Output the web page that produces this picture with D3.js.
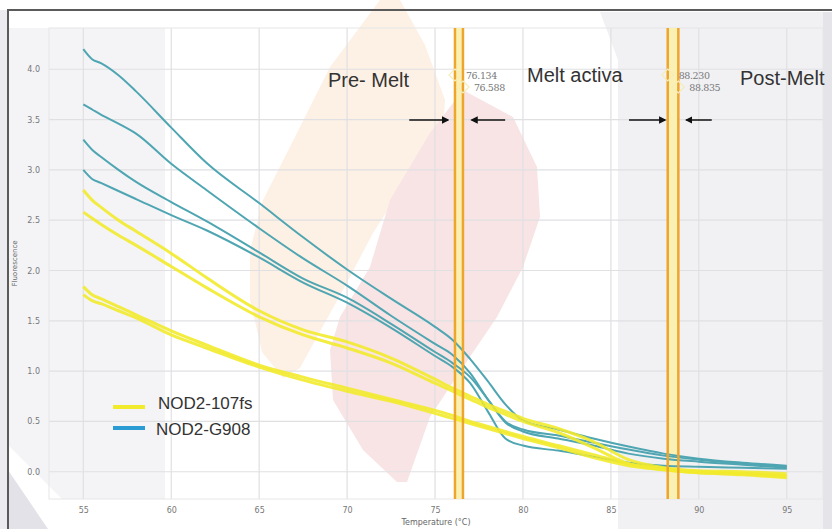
<!DOCTYPE html>
<html>
<head>
<meta charset="utf-8">
<script src="https://cdn.jsdelivr.net/npm/d3@7"></script>
<style>
  body { margin: 0; background: #fff; }
  svg { display: block; font-family: "Liberation Sans", Arial, sans-serif; }
</style>
</head>
<body>
<svg width="832" height="529"></svg>
<script>
// temperatures (°C) where the curves were read
const temps = [55, 55.5, 56, 57, 58, 60, 62, 65, 67.5, 70, 72.5, 75, 76, 77, 78, 79, 80, 82, 84, 86, 88, 90, 92.5, 95];

// NOD2-G908 (blue) melt curves
const g908a = [4.20, 4.10, 4.06, 3.94, 3.78, 3.42, 3.07, 2.67, 2.33, 2.01, 1.72, 1.44, 1.31, 1.12, 0.90, 0.67, 0.51, 0.42, 0.33, 0.25, 0.18, 0.13, 0.09, 0.06];
const g908b = [3.65, 3.60, 3.55, 3.46, 3.36, 3.06, 2.80, 2.42, 2.12, 1.85, 1.55, 1.27, 1.16, 0.98, 0.72, 0.50, 0.42, 0.36, 0.29, 0.22, 0.16, 0.12, 0.08, 0.05];
const g908c = [3.30, 3.20, 3.13, 3.00, 2.88, 2.68, 2.49, 2.18, 1.92, 1.73, 1.47, 1.19, 1.08, 0.94, 0.72, 0.49, 0.40, 0.33, 0.26, 0.18, 0.13, 0.10, 0.07, 0.04];
const g908d = [3.00, 2.91, 2.87, 2.79, 2.71, 2.55, 2.40, 2.13, 1.88, 1.68, 1.43, 1.15, 1.04, 0.88, 0.60, 0.33, 0.26, 0.21, 0.15, 0.09, 0.06, 0.05, 0.04, 0.03];

// NOD2-107fs (yellow) melt curves
const fs107a = [2.80, 2.70, 2.63, 2.50, 2.39, 2.17, 1.93, 1.60, 1.41, 1.29, 1.13, 0.92, 0.83, 0.75, 0.67, 0.60, 0.53, 0.43, 0.30, 0.12, 0.04, 0.01, 0.00, -0.02];
const fs107b = [2.58, 2.52, 2.46, 2.35, 2.25, 2.04, 1.83, 1.54, 1.36, 1.23, 1.08, 0.88, 0.80, 0.72, 0.64, 0.57, 0.50, 0.39, 0.24, 0.08, 0.02, -0.01, -0.02, -0.04];
const fs107c = [1.84, 1.76, 1.72, 1.64, 1.56, 1.40, 1.26, 1.06, 0.94, 0.83, 0.72, 0.61, 0.56, 0.50, 0.45, 0.40, 0.35, 0.26, 0.17, 0.08, 0.03, 0.00, -0.02, -0.05];
const fs107d = [1.76, 1.70, 1.67, 1.60, 1.53, 1.36, 1.23, 1.04, 0.91, 0.80, 0.70, 0.58, 0.53, 0.48, 0.43, 0.38, 0.33, 0.24, 0.14, 0.06, 0.02, -0.01, -0.03, -0.06];

const xTicks = [55, 60, 65, 70, 75, 80, 85, 90, 95];
const yTicks = [0, 0.5, 1.0, 1.5, 2.0, 2.5, 3.0, 3.5, 4.0];

// melt region boundaries
const meltLines = [76.134, 76.588, 88.230, 88.835];
const regionLabels = ['Pre- Melt', 'Melt activa', 'Post-Melt'];
const legendLabels = ['NOD2-107fs', 'NOD2-G908'];

const blueColor = '#4fa6b2';
const yellowColor = '#f2ea2c';

const svg = d3.select('svg');
const margin = { left: 49, right: 9, top: 28, bottom: 30 };
const width = +svg.attr('width');
const height = +svg.attr('height');

// slide background / watermark
const bg = svg.append('g');
bg.append('rect').attr('width', width).attr('height', height).attr('fill', '#fff');
bg.append('rect').attr('x', 0).attr('y', 10).attr('width', 8).attr('height', height).attr('fill', '#ececf0');
bg.append('path').attr('d', 'M8,28 L165,28 L165,499 L62,499 L8,445 Z').attr('fill', '#f4f4f7');
bg.append('path').attr('d', 'M8,470 L48,529 L8,529 Z').attr('fill', '#e2e2e8');
bg.append('path').attr('d', 'M600,12 L823,12 L823,529 L618,529 L618,60 Z').attr('fill', '#f1f1f4');
bg.append('rect').attr('x', 823).attr('y', 12).attr('width', 9).attr('height', height).attr('fill', '#e4e4e9');
bg.append('path')
  .attr('d', 'M380,0 L400,0 L425,45 L445,100 L443,135 L405,183 L373,233 L343,290 L318,335 L300,368 L283,378 L262,352 L250,300 L250,250 L263,200 L297,133 L330,67 Z')
  .attr('fill', '#fdf0e5');
bg.append('path')
  .attr('d', 'M463,90 L513,117 L537,167 L540,217 L523,267 L497,317 L463,367 L430,417 L407,482 L397,482 L363,450 L333,400 L330,350 L340,317 L370,267 L390,200 L430,133 Z')
  .attr('fill', '#f8e4e4');

// outer frame
svg.append('path')
  .attr('d', `M8,${height} L8,10 L${width},10`)
  .attr('fill', 'none')
  .attr('stroke', '#5a5a5a')
  .attr('stroke-width', 2);

const innerLeft = margin.left;
const innerRight = width - margin.right;
const innerTop = margin.top;
const innerBottom = height - margin.bottom;

const xScale = d3.scaleLinear().domain([53.05, 97.06]).range([innerLeft, innerRight]);
const yScale = d3.scaleLinear().domain([-0.271, 4.41]).range([innerBottom, innerTop]);

const g = svg.append('g');

// grid
g.append('g').selectAll('line').data(xTicks).enter().append('line')
  .attr('x1', d => xScale(d)).attr('x2', d => xScale(d))
  .attr('y1', innerTop).attr('y2', innerBottom)
  .attr('stroke', '#e0e0e3').attr('stroke-width', 1.2);
g.append('g').selectAll('line').data(yTicks).enter().append('line')
  .attr('x1', innerLeft).attr('x2', innerRight)
  .attr('y1', d => yScale(d)).attr('y2', d => yScale(d))
  .attr('stroke', '#e0e0e3').attr('stroke-width', 1.2);
g.append('rect')
  .attr('x', innerLeft).attr('y', innerTop)
  .attr('width', innerRight - innerLeft).attr('height', innerBottom - innerTop)
  .attr('fill', 'none').attr('stroke', '#e6e6e8');

// axes
const xAxis = d3.axisBottom(xScale).tickValues(xTicks).tickSize(0).tickPadding(8).tickFormat(d3.format('d'));
const yAxis = d3.axisLeft(yScale).tickValues(yTicks).tickSize(0).tickPadding(9).tickFormat(d3.format('.1f'));
const xAxisG = g.append('g').attr('transform', `translate(0, ${innerBottom})`).call(xAxis);
const yAxisG = g.append('g').attr('transform', `translate(${innerLeft}, 0)`).call(yAxis);
[xAxisG, yAxisG].forEach(a => {
  a.select('.domain').remove();
  a.selectAll('text').attr('fill', '#777').attr('font-size', 8).attr('font-family', '"DejaVu Sans", sans-serif');
});

g.append('text')
  .attr('x', (innerLeft + innerRight) / 2).attr('y', 525)
  .attr('text-anchor', 'middle')
  .attr('font-size', 8).attr('fill', '#666')
  .attr('font-family', '"DejaVu Sans", sans-serif')
  .text('Temperature (°C)');
g.append('text')
  .attr('transform', `translate(17, ${(innerTop + innerBottom) / 2}) rotate(-90)`)
  .attr('text-anchor', 'middle')
  .attr('font-size', 7).attr('fill', '#666')
  .attr('font-family', '"DejaVu Sans", sans-serif')
  .text('Fluorescence');

// melt region bands
const bands = [[meltLines[0], meltLines[1]], [meltLines[2], meltLines[3]]];
g.append('g').selectAll('rect').data(bands).enter().append('rect')
  .attr('x', d => xScale(d[0])).attr('y', innerTop)
  .attr('width', d => xScale(d[1]) - xScale(d[0]))
  .attr('height', innerBottom - innerTop)
  .attr('fill', '#faf0b4');

// curves
const line = d3.line()
  .x((d, i) => xScale(temps[i]))
  .y(d => yScale(d))
  .curve(d3.curveMonotoneX);

const blueSeries = [g908a, g908b, g908c, g908d];
const yellowSeries = [fs107a, fs107b, fs107c, fs107d];

g.append('g').selectAll('path').data(blueSeries).enter().append('path')
  .attr('d', line)
  .attr('fill', 'none')
  .attr('stroke', blueColor)
  .attr('stroke-width', 2);

g.append('g').selectAll('path').data(yellowSeries).enter().append('path')
  .attr('d', line)
  .attr('fill', 'none')
  .attr('stroke', yellowColor)
  .attr('stroke-opacity', 0.9)
  .attr('stroke-width', 3);

// melt boundary lines
g.append('g').selectAll('line').data(meltLines).enter().append('line')
  .attr('x1', d => xScale(d)).attr('x2', d => xScale(d))
  .attr('y1', innerTop).attr('y2', innerBottom)
  .attr('stroke', '#eea52c').attr('stroke-width', 2.5);

// boundary markers and values
const markY = [75, 87, 75, 87];
const marks = g.append('g').selectAll('g').data(meltLines).enter().append('g')
  .attr('transform', (d, i) => `translate(${xScale(d)}, ${markY[i]})`);
marks.append('path')
  .attr('d', 'M0,-6 L6,0 L0,6 L-6,0 Z')
  .attr('fill', 'none')
  .attr('stroke', '#f5ecb8')
  .attr('stroke-width', 1.2);
marks.append('text')
  .attr('x', 11).attr('y', 3.5)
  .attr('font-size', 9.5).attr('fill', '#777')
  .attr('font-family', '"DejaVu Serif", serif')
  .attr('letter-spacing', -0.4)
  .text(d => d.toFixed(3));

// region labels
const labelX = [328, 527, 740];
const labelY = [87, 82, 85];
g.append('g').selectAll('text').data(regionLabels).enter().append('text')
  .attr('x', (d, i) => labelX[i]).attr('y', (d, i) => labelY[i])
  .attr('font-size', 20).attr('fill', '#333')
  .text(d => d);

// arrows pointing at the boundaries
const arrowY = 120;
const arrows = [
  { from: meltLines[0] - 2.6, to: meltLines[0] - 0.4 },
  { from: meltLines[1] + 2.4, to: meltLines[1] + 0.5 },
  { from: meltLines[2] - 2.2, to: meltLines[2] - 0.15 },
  { from: meltLines[3] + 1.9, to: meltLines[3] + 0.45 }
];
svg.append('defs').append('marker')
  .attr('id', 'head')
  .attr('viewBox', '0 0 10 10')
  .attr('refX', 8).attr('refY', 5)
  .attr('markerWidth', 5).attr('markerHeight', 5)
  .attr('orient', 'auto')
  .append('path').attr('d', 'M0,0 L10,5 L0,10 Z').attr('fill', '#111');
g.append('g').selectAll('line').data(arrows).enter().append('line')
  .attr('x1', d => xScale(d.from)).attr('x2', d => xScale(d.to))
  .attr('y1', arrowY).attr('y2', arrowY)
  .attr('stroke', '#111').attr('stroke-width', 1.5)
  .attr('marker-end', 'url(#head)');

// legend
const legendColors = [yellowColor, '#2b9bd4'];
const legend = g.append('g').selectAll('g').data(legendLabels).enter().append('g')
  .attr('transform', (d, i) => `translate(113, ${407 + i * 21})`);
legend.append('line')
  .attr('x1', 0).attr('x2', 32)
  .attr('stroke', (d, i) => legendColors[i])
  .attr('stroke-width', 4);
legend.append('text')
  .attr('x', (d, i) => 45 - i * 2).attr('y', (d, i) => 1 - (1 - i) * 5 + 6)
  .attr('font-size', 17).attr('fill', '#333')
  .text(d => d);
</script>
</body>
</html>
